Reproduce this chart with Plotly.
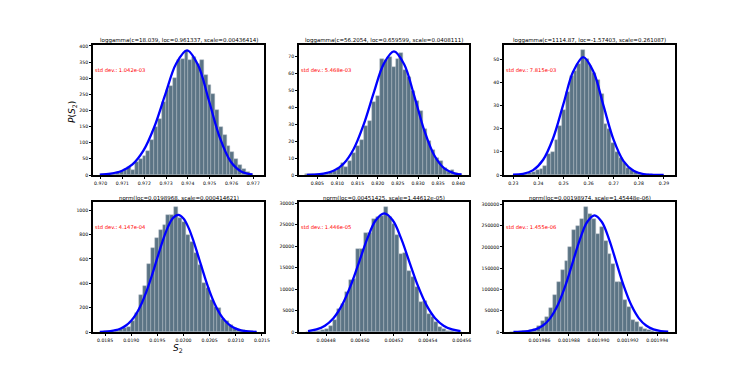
import numpy as np
import plotly.graph_objects as go

# panel titles and the std dev notes
titles = ["loggamma(c=18.039, loc=0.961337, scale=0.00436414)",
          "loggamma(c=56.2054, loc=0.659599, scale=0.0408111)",
          "loggamma(c=1114.87, loc=-1.57403, scale=0.261087)",
          "norm(loc=0.0198968, scale=0.000414621)",
          "norm(loc=0.00451425, scale=1.44612e-05)",
          "norm(loc=0.00198974, scale=1.45448e-06)"]
std_labels = ["std dev.: 1.042e-03", "std dev.: 5.468e-03", "std dev.: 7.815e-03",
              "std dev.: 4.147e-04", "std dev.: 1.446e-05", "std dev.: 1.455e-06"]

# histograms: first bin edge, bin width, bar heights (density)
p1_start, p1_width = 0.9700, 0.000175
p1_counts = [2, 2, 3, 4, 6, 12, 20, 25, 15, 40, 50, 58, 75, 110, 150, 175, 225, 265, 275, 300,
             355, 360, 385, 358, 365, 345, 355, 310, 280, 250, 200, 150, 125, 90, 70, 50, 30, 20, 10, 3]

p2_start, p2_width = 0.8020, 0.000975
p2_counts = [0.3, 0.3, 0.4, 0.6, 0.8, 1.2, 1.5, 2.5, 4, 7, 5, 8, 13, 17, 21, 29, 32, 43, 47, 69,
             68, 70, 64, 69, 72, 62, 58, 50, 44, 38, 27, 20, 15, 10, 8, 4, 2, 3, 1, 0.5]

p3_start, p3_width = 0.2300, 0.0015
p3_counts = [0.2, 0.2, 0.3, 0.5, 0.8, 1.2, 2, 2.8, 4, 9, 10, 15, 21, 28, 36, 43, 45, 48, 54, 50,
             47, 44, 41, 35, 22, 20, 14, 10, 7.5, 5, 3, 2, 1.2, 1, 0.5, 0.3, 0.2, 0.1, 0, 0.1]

p4_start, p4_width = 0.0184, 0.000075
p4_counts = [3, 5, 8, 12, 20, 28, 30, 42, 90, 160, 300, 380, 560, 690, 770, 840, 880, 960, 960, 1025,
             935, 905, 800, 740, 645, 550, 400, 360, 260, 205, 200, 110, 88, 55, 33, 20, 14, 8, 5, 2]

p5_start, p5_width = 0.004468, 0.0000023
p5_counts = [40, 70, 150, 300, 550, 800, 1500, 2700, 5300, 6600, 9300, 12000, 12400, 19400, 19400,
             23000, 23100, 26300, 26700, 27100, 29000, 26700, 25200, 22500, 18200, 18300, 14300,
             12800, 10500, 7000, 7200, 4300, 3500, 2300, 1200, 700, 350, 200, 80, 40]

p6_start, p6_width = 0.0019840, 0.000000265
p6_counts = [300, 500, 1000, 1800, 2500, 4000, 6300, 13300, 25000, 36000, 57000, 86000, 118000,
             145000, 168000, 200000, 240000, 248000, 266000, 293600, 278000, 266000, 230000, 246700,
             215000, 184000, 160500, 117500, 117500, 74400, 58700, 29000, 23500, 11700, 7800, 4000,
             2000, 1000, 500, 300]

# fitted pdf curves
p1_curve_x = [0.96996, 0.97046, 0.97096, 0.97146, 0.97196, 0.97246, 0.97296, 0.97346, 0.97396,
              0.97446, 0.97496, 0.97546, 0.97596, 0.97646, 0.97696]
p1_curve_y = [1.3, 4.2, 12.5, 32.8, 75.4, 148.9, 249.0, 344.9, 386.5, 341.8, 231.7, 116.6, 41.9, 10.4, 1.7]

p2_curve_x = [0.8024, 0.80403, 0.80653, 0.80903, 0.81153, 0.81403, 0.81653, 0.81903, 0.82153,
              0.82403, 0.82653, 0.82903, 0.83153, 0.83403, 0.83653, 0.83903, 0.8408]
p2_curve_y = [0.1, 0.2, 0.8, 2.5, 6.7, 15.4, 30.0, 48.8, 66.0, 73.2, 65.7, 47.2, 26.6, 11.7, 3.9, 1.0, 0.3]

p3_curve_x = [0.22989, 0.23389, 0.23789, 0.24189, 0.24589, 0.24989, 0.25389, 0.25789, 0.26189,
              0.26589, 0.26989, 0.27389, 0.27789, 0.28189, 0.28589, 0.28989]
p3_curve_y = [0.1, 0.5, 2.1, 6.6, 16.0, 30.4, 44.8, 51.0, 44.7, 30.1, 15.4, 6.0, 1.8, 0.4, 0.07, 0.01]

p4_curve_x = [0.0184, 0.0185, 0.0186, 0.0187, 0.0188, 0.0189, 0.0190, 0.0191, 0.0192, 0.0193, 0.0194,
              0.0195, 0.0196, 0.0197, 0.0198, 0.0199, 0.0200, 0.0201, 0.0202, 0.0203, 0.0204, 0.0205,
              0.0206, 0.0207, 0.0208, 0.0209, 0.0210, 0.0211, 0.0212, 0.0213, 0.0214]
p4_curve_y = [1.4, 3.3, 7.2, 14.9, 29.1, 53.5, 92.8, 151.8, 234.4, 341.5, 469.3, 608.6, 744.7, 859.6,
              936.3, 962.1, 932.8, 853.3, 736.5, 599.7, 460.7, 334.0, 228.4, 147.4, 89.7, 51.5, 27.9,
              14.3, 6.9, 3.1, 1.4]

p5_curve_x = [0.0044693, 0.0044743, 0.0044793, 0.0044843, 0.0044893, 0.0044943, 0.0044993, 0.0045043,
              0.0045093, 0.0045143, 0.0045193, 0.0045243, 0.0045293, 0.0045343, 0.0045393, 0.0045443,
              0.0045493, 0.0045543, 0.0045593]
p5_curve_y = [218, 602, 1475, 3208, 6191, 10601, 16110, 21721, 25986, 27587, 25986, 21721, 16110,
              10601, 6191, 3208, 1475, 602, 218]

p6_curve_x = [0.00198424, 0.00198474, 0.00198524, 0.00198574, 0.00198624, 0.00198674, 0.00198724,
              0.00198774, 0.00198824, 0.00198874, 0.00198924, 0.00198974, 0.00199024, 0.00199074,
              0.00199124, 0.00199174, 0.00199224, 0.00199274, 0.00199324, 0.00199374, 0.00199424,
              0.00199474]
p6_curve_y = [215, 745, 2288, 6251, 15160, 32690, 62613, 106565, 161155, 216556, 258546, 274284,
              258546, 216556, 161155, 106565, 62613, 32690, 15160, 6251, 2288, 745]

# axis ticks
x_ticks = [[0.970, 0.971, 0.972, 0.973, 0.974, 0.975, 0.976, 0.977],
           [0.805, 0.810, 0.815, 0.820, 0.825, 0.830, 0.835, 0.840],
           [0.23, 0.24, 0.25, 0.26, 0.27, 0.28, 0.29],
           [0.0185, 0.0190, 0.0195, 0.0200, 0.0205, 0.0210, 0.0215],
           [0.00448, 0.00450, 0.00452, 0.00454, 0.00456],
           [0.001986, 0.001988, 0.001990, 0.001992, 0.001994]]
x_fmt = [".3f", ".3f", ".2f", ".4f", ".5f", ".6f"]
y_dtick = [50, 10, 10, 200, 5000, 50000]
x_ranges = [[0.96965, 0.97749], [0.80046, 0.84266], [0.2263, 0.2944],
            [0.01827, 0.02154], [0.004464, 0.0045643], [0.0019836, 0.0019952]]
y_ranges = [[0, 403], [0, 77], [0, 56.2], [0, 1068], [0, 30250], [0, 305500]]

panels = [(p1_start, p1_width, p1_counts, p1_curve_x, p1_curve_y),
          (p2_start, p2_width, p2_counts, p2_curve_x, p2_curve_y),
          (p3_start, p3_width, p3_counts, p3_curve_x, p3_curve_y),
          (p4_start, p4_width, p4_counts, p4_curve_x, p4_curve_y),
          (p5_start, p5_width, p5_counts, p5_curve_x, p5_curve_y),
          (p6_start, p6_width, p6_counts, p6_curve_x, p6_curve_y)]

W, H = 750, 375
OFF = 8  # the page body margin pushes the plot 8px right and down


def px(x):
    return (x - OFF) / W


def py(y):
    return 1 - (y - OFF) / H


x_dom = [[px(93), px(264)], [px(299), px(469)], [px(504), px(675)]]
y_dom = [[py(175), py(45)], [py(332), py(202)]]

font = "DejaVu Sans"
fig = go.Figure()
layout = {}
annotations = []

for i, (start, width, counts, cx, cy) in enumerate(panels):
    n = str(i + 1) if i else ""
    xa, ya = "x" + n, "y" + n
    centers = start + width * (np.arange(len(counts)) + 0.5)
    fig.add_trace(go.Bar(x=centers, y=counts, width=width, xaxis=xa, yaxis=ya,
                         marker=dict(color="#5b7485", line=dict(color="rgba(175,185,192,0.9)", width=0.5))))
    fig.add_trace(go.Scatter(x=cx, y=cy, mode="lines", xaxis=xa, yaxis=ya,
                             line=dict(color="#0000ff", width=2.3, shape="spline")))
    row, col = divmod(i, 3)
    common = dict(showgrid=False, zeroline=False, showline=True, mirror=True, linecolor="black",
                  linewidth=2, ticks="outside", ticklen=2, tickwidth=0.6, tickcolor="black",
                  automargin=False, tickfont=dict(family=font, size=4.6, color="black"))
    layout["xaxis" + n] = dict(domain=x_dom[col], anchor=ya, range=x_ranges[i],
                               tickvals=x_ticks[i], tickformat=x_fmt[i], **common)
    layout["yaxis" + n] = dict(domain=y_dom[row], anchor=xa, range=y_ranges[i],
                               dtick=y_dtick[i], tick0=0, tickformat="d", **common)
    annotations.append(dict(text=titles[i], xref="paper", yref="paper",
                            x=sum(x_dom[col]) / 2, y=y_dom[row][1], xanchor="center",
                            yanchor="bottom", yshift=-1,
                            showarrow=False, font=dict(family=font, size=5.5, color="black")))
    annotations.append(dict(text=std_labels[i], xref=xa + " domain", yref=ya + " domain",
                            x=0.0, y=0.81, xanchor="left", yanchor="middle", showarrow=False,
                            font=dict(family=font, size=5.2, color="red")))

annotations.append(dict(text="<i>P</i>(<i>S</i><sub>2</sub>)", xref="paper", yref="paper",
                        x=px(72), y=py(112), xanchor="center", yanchor="middle", textangle=-90,
                        showarrow=False, font=dict(family=font, size=9, color="black")))
annotations.append(dict(text="<i>S</i><sub>2</sub>", xref="paper", yref="paper",
                        x=px(178), y=py(341), xanchor="center", yanchor="top",
                        showarrow=False, font=dict(family=font, size=9, color="black")))

fig.update_layout(**layout)
fig.update_layout(width=W, height=H, margin=dict(l=0, r=0, t=0, b=0), showlegend=False,
                  plot_bgcolor="white", paper_bgcolor="white", bargap=0,
                  annotations=annotations)

fig.write_html("out.html")
